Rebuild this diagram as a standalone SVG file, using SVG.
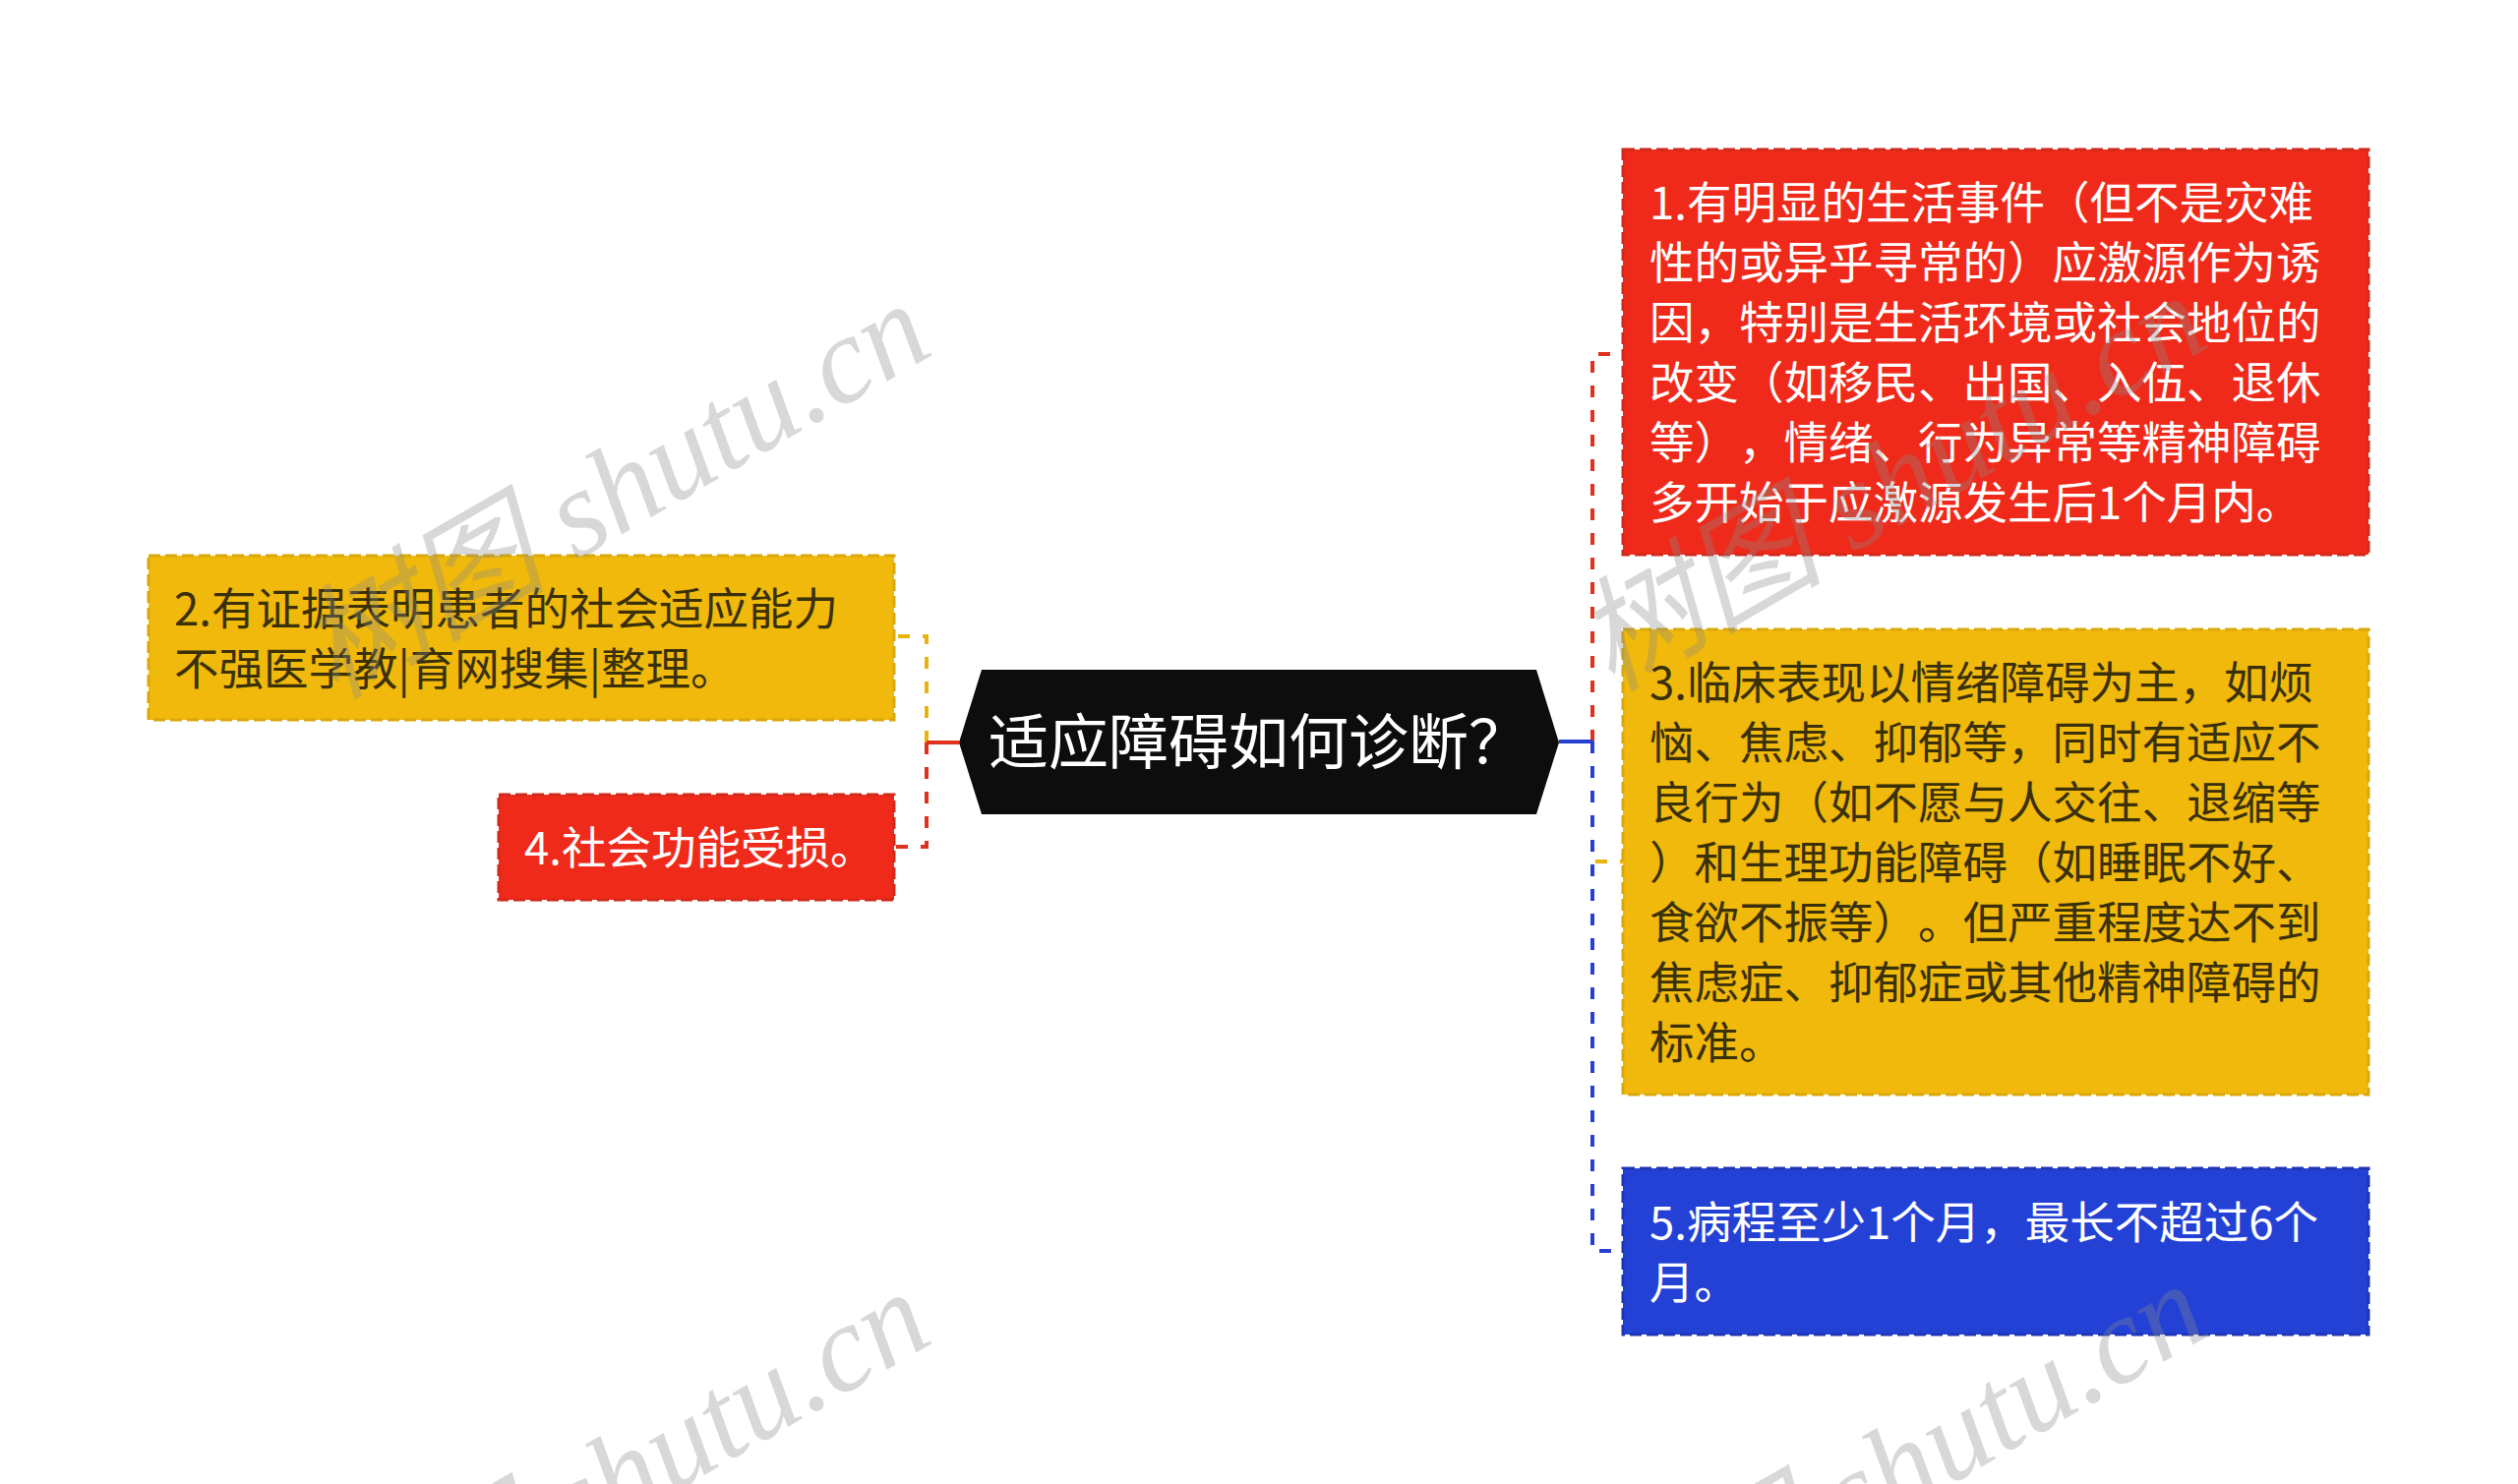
<svg xmlns="http://www.w3.org/2000/svg" width="2560" height="1509" viewBox="0 0 2560 1509">
<style>
text{text-spacing-trim:space-all}
.t{font-family:"Noto Sans CJK SC","Noto Sans",sans-serif;font-size:45.5px}
.w{fill:#ffffff}
.d{fill:#3a3009}
.box{stroke-width:3;stroke-dasharray:12 5}
.red{fill:#f02a1a;stroke:#cf2a1c}
.yel{fill:#f0b90b;stroke:#d9a80c}
.blu{fill:#2441d6;stroke:#1d36b5}
.c{fill:none;stroke-width:4}
.dash{stroke-dasharray:12 13}
.wm{font-family:"Liberation Serif","Noto Sans CJK SC",serif;font-style:italic;font-size:126px;fill:#888888;fill-opacity:0.33}
</style>
<rect width="2560" height="1509" fill="#ffffff"/>
<g id="connectors">
<path class="c dash" stroke="#e8b30f" d="M942,755 V647 H909"/>
<path class="c dash" stroke="#e0301e" d="M942,755 V861 H909"/>
<path class="c" stroke="#e0301e" d="M975,755 H942"/>
<path class="c dash" stroke="#e0301e" d="M1619,754 V360 H1650"/>
<path class="c dash" stroke="#e8b30f" d="M1619,754 V876 H1650"/>
<path class="c dash" stroke="#2740d0" d="M1619,754 V1272 H1650"/>
<path class="c" stroke="#2740d0" d="M1585,754 H1619"/>
</g>
<g id="center">
<polygon points="975,755 998,681 1562,681 1585,755 1562,828 998,828" fill="#0d0d0d"/>
<text x="1005" y="777" font-family="Noto Sans CJK SC,sans-serif" font-size="61" fill="#ffffff">适应障碍如何诊断？</text>
</g>
<g id="node1">
<rect class="box red" x="1650" y="152" width="758" height="412"/>
<text class="t w"><tspan x="1677" y="223">1.有明显的生活事件（但不是灾难</tspan><tspan x="1677" y="284">性的或异乎寻常的）应激源作为诱</tspan><tspan x="1677" y="345">因，特别是生活环境或社会地位的</tspan><tspan x="1677" y="406">改变（如移民、出国、入伍、退休</tspan><tspan x="1677" y="467">等），情绪、行为异常等精神障碍</tspan><tspan x="1677" y="528">多开始于应激源发生后1个月内。</tspan></text>
</g>
<g id="node2">
<rect class="box yel" x="151" y="565" width="758" height="167"/>
<text class="t d"><tspan x="177" y="636">2.有证据表明患者的社会适应能力</tspan><tspan x="177" y="697">不强医学教|育网搜集|整理。</tspan></text>
</g>
<g id="node3">
<rect class="box yel" x="1650" y="640" width="758" height="473"/>
<text class="t d"><tspan x="1677" y="711">3.临床表现以情绪障碍为主，如烦</tspan><tspan x="1677" y="772">恼、焦虑、抑郁等，同时有适应不</tspan><tspan x="1677" y="833">良行为（如不愿与人交往、退缩等</tspan><tspan x="1677" y="894">）和生理功能障碍（如睡眠不好、</tspan><tspan x="1677" y="955">食欲不振等）。但严重程度达不到</tspan><tspan x="1677" y="1016">焦虑症、抑郁症或其他精神障碍的</tspan><tspan x="1677" y="1077">标准。</tspan></text>
</g>
<g id="node4">
<rect class="box red" x="507" y="808" width="402" height="107"/>
<text class="t w" x="533" y="879">4.社会功能受损。</text>
</g>
<g id="node5">
<rect class="box blu" x="1650" y="1188" width="758" height="169"/>
<text class="t w"><tspan x="1677" y="1260">5.病程至少1个月，最长不超过6个</tspan><tspan x="1677" y="1321">月。</tspan></text>
</g>
<g id="watermarks">
<text class="wm" x="340" y="712" transform="rotate(-30 340 712)">树图 shutu.cn</text>
<text class="wm" x="1638" y="704" transform="rotate(-30 1638 704)">树图 shutu.cn</text>
<text class="wm" x="340" y="1717" transform="rotate(-30 340 1717)">树图 shutu.cn</text>
<text class="wm" x="1638" y="1709" transform="rotate(-30 1638 1709)">树图 shutu.cn</text>
</g>
</svg>
